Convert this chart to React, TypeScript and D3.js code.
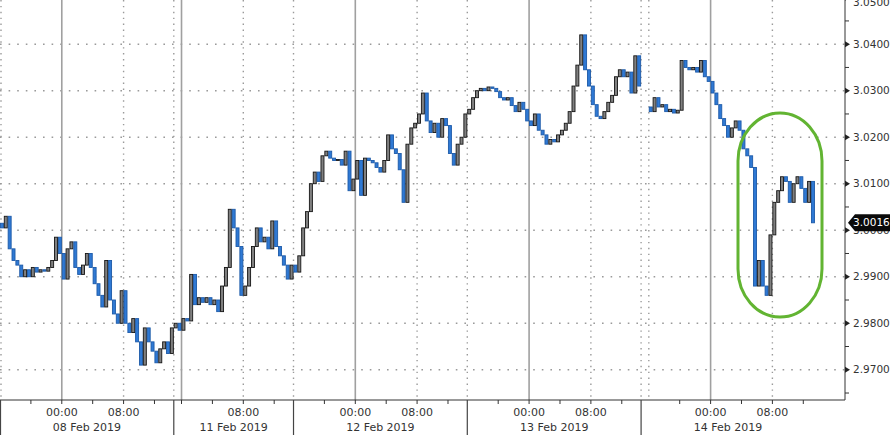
import React from "react";
import * as d3 from "d3";

// ---- data ----
const DAY_LABELS = ["08 Feb 2019", "11 Feb 2019", "12 Feb 2019", "13 Feb 2019", "14 Feb 2019"];
// trading-hour position where each session's bars begin, and the clock hour at that moment
const SESSION_START_H = [0, 22.5, 38, 60.5, 84];
const SESSION_START_CLOCK = [16, 23, 16, 16, 16];
// session boundaries (trading hours); the last one closes the final session
const BOUNDARY_H = [0, 22.5, 38, 60.5, 83, 105.5];
const SESSION_OPEN = [3.0015, 2.979, 2.9925, 3.025, 3.0265];

// 30-minute closes per session
const closes08 = [
  3.0005, 3.003, 2.996, 2.9935, 2.9925, 2.99, 2.9915, 2.99, 2.992, 2.991,
  2.9915, 2.9912, 2.992, 2.9935, 2.9985, 2.995, 2.9895, 2.996, 2.9975, 2.992,
  2.9905, 2.9925, 2.995, 2.992, 2.9885, 2.986, 2.9835, 2.9935, 2.985, 2.982,
  2.98, 2.987, 2.98, 2.978, 2.981, 2.976, 2.971, 2.979, 2.976, 2.974,
  2.9715, 2.9745, 2.976, 2.9735, 2.979,
];
const closes11 = [
  2.98, 2.9785, 2.981, 2.9805, 2.9905, 2.984, 2.9855, 2.9845, 2.9855, 2.984,
  2.985, 2.9825, 2.988, 2.992, 3.0045, 3.0005, 2.9965, 2.986, 2.988, 2.992,
  2.9965, 3.0005, 2.9975, 2.9985, 2.996, 3.002, 2.9965, 2.9945, 2.9925, 2.9895,
  2.9925,
];
const closes12 = [
  2.991, 2.9945, 3.0005, 3.004, 3.01, 3.0125, 3.0105, 3.016, 3.017, 3.0155,
  3.015, 3.0152, 3.014, 3.017, 3.0085, 3.011, 3.015, 3.0075, 3.0155, 3.015,
  3.0145, 3.0135, 3.0125, 3.015, 3.0205, 3.0175, 3.0165, 3.013, 3.006, 3.0185,
  3.022, 3.023, 3.025, 3.0295, 3.0235, 3.021, 3.023, 3.02, 3.024, 3.0225,
  3.0165, 3.014, 3.0185, 3.02, 3.025,
];
const closes13 = [
  3.026, 3.0285, 3.03, 3.0305, 3.03, 3.0308, 3.0305, 3.0298, 3.0285, 3.028,
  3.0285, 3.0268, 3.0255, 3.0275, 3.026, 3.0235, 3.0225, 3.025, 3.0215, 3.0205,
  3.0185, 3.0195, 3.019, 3.0205, 3.0215, 3.023, 3.0255, 3.031, 3.0355, 3.042,
  3.0345, 3.031, 3.027, 3.0245, 3.024, 3.0255, 3.0275, 3.029, 3.033, 3.0345,
  3.033, 3.034, 3.0295, 3.0375, 3.031,
];
const closes14 = [
  3.0255, 3.0285, 3.0265, 3.027, 3.0255, 3.026, 3.0252, 3.0258, 3.0365, 3.035,
  3.0345, 3.035, 3.034, 3.0365, 3.033, 3.032, 3.0295, 3.027, 3.024, 3.0225,
  3.02, 3.022, 3.0235, 3.0215, 3.0175, 3.016, 3.0135, 2.988, 2.9935, 2.988,
  2.986, 2.999, 3.006, 3.0085, 3.0115, 3.0105, 3.006, 3.01, 3.0115, 3.009,
  3.006, 3.0105, 3.0016,
];
const SESSION_CLOSES = [closes08, closes11, closes12, closes13, closes14];

const Y_TICKS = [2.97, 2.98, 2.99, 3.0, 3.01, 3.02, 3.03, 3.04, 3.05];
const LAST_PRICE = 3.0016;

// ---- layout ----
const W = 890;
const H = 439;
const PLOT_RIGHT = 845;
const PLOT_BOTTOM = 400;
const FONT = "'DejaVu Sans', Verdana, sans-serif";

export default function App() {
  const x = d3.scaleLinear().domain([0, 109.4]).range([0, PLOT_RIGHT]);
  const y = d3.scaleLinear().domain([2.9635, 3.0495]).range([PLOT_BOTTOM, 0]);

  const bars = SESSION_CLOSES.flatMap((arr, si) =>
    arr.map((c, i) => ({
      t: SESSION_START_H[si] + (i + 0.5) * 0.5,
      o: i === 0 ? SESSION_OPEN[si] : arr[i - 1],
      c,
    }))
  );

  // time ticks every 4 clock hours
  const timeTicks: { h: number; clock: number; off: number }[] = [];
  SESSION_START_H.forEach((s, si) => {
    const end = BOUNDARY_H[si + 1];
    const startClock = SESSION_START_CLOCK[si];
    let off = (4 - (startClock % 4)) % 4;
    if (off === 0) off = 4;
    for (; s + off < end; off += 4) {
      timeTicks.push({ h: s + off, clock: (startClock + off) % 24, off });
    }
  });

  const minorY = d3.range(2.965, 3.05, 0.01);
  const dottedV = Array.from(new Set([...BOUNDARY_H.slice(0, 5), ...SESSION_START_H]));

  const ly = y(LAST_PRICE);

  return (
    <svg
      width={W}
      height={H}
      style={{ position: "absolute", left: 0, top: 0, background: "#fff" }}
      fontFamily={FONT}
    >
      <rect x={0} y={0} width={W} height={H} fill="#fff" />
      {/* horizontal dotted grid */}
      {Y_TICKS.map((v) => (
        <line
          key={"hg" + v}
          x1={0}
          x2={PLOT_RIGHT}
          y1={y(v)}
          y2={y(v)}
          stroke="#9a9a9a"
          strokeWidth={1.6}
          strokeDasharray="1.6,7"
        />
      ))}
      {/* dotted vertical lines at session boundaries */}
      {dottedV.map((h) => (
        <line
          key={"dv" + h}
          x1={x(h) + (h === 0 ? 1 : 0)}
          x2={x(h) + (h === 0 ? 1 : 0)}
          y1={0}
          y2={PLOT_BOTTOM}
          stroke="#9a9a9a"
          strokeWidth={1.4}
          strokeDasharray="1.4,4.5"
        />
      ))}
      {/* vertical lines at 00:00 (solid) and 08:00 (dotted) */}
      {timeTicks
        .filter((t) => t.clock === 0 || t.clock === 8)
        .map((t) => (
          <line
            key={"vg" + t.h}
            x1={x(t.h)}
            x2={x(t.h)}
            y1={0}
            y2={PLOT_BOTTOM}
            stroke={t.clock === 0 ? "#a0a0a0" : "#9a9a9a"}
            strokeWidth={t.clock === 0 ? 1.6 : 1.4}
            strokeDasharray={t.clock === 0 ? undefined : "1.4,4.5"}
          />
        ))}

      {/* candles */}
      {bars.map((b, i) => {
        const up = b.c >= b.o;
        const top = y(Math.max(b.o, b.c));
        const h = Math.max(1, Math.abs(y(b.o) - y(b.c)));
        return (
          <rect
            key={"b" + i}
            x={x(b.t) - 1.5}
            y={top}
            width={3}
            height={h}
            fill={up ? "#808080" : "#2f79d4"}
            stroke={up ? "#151515" : "#1d5aa8"}
            strokeWidth={0.9}
          />
        );
      })}

      {/* highlight ellipse */}
      <rect
        x={738}
        y={113}
        width={84}
        height={204}
        rx={42}
        ry={48}
        fill="none"
        stroke="#62b432"
        strokeWidth={3}
      />

      {/* bottom axis */}
      <line x1={0} x2={PLOT_RIGHT} y1={PLOT_BOTTOM} y2={PLOT_BOTTOM} stroke="#333" strokeWidth={1} />
      {timeTicks.map((t) => (
        <line
          key={"tt" + t.h}
          x1={x(t.h)}
          x2={x(t.h)}
          y1={PLOT_BOTTOM}
          y2={PLOT_BOTTOM + 4}
          stroke="#333"
          strokeWidth={1}
        />
      ))}
      {BOUNDARY_H.slice(0, 5).map((h) => (
        <line
          key={"sep" + h}
          x1={x(h) + (h === 0 ? 0.5 : 0)}
          x2={x(h) + (h === 0 ? 0.5 : 0)}
          y1={PLOT_BOTTOM}
          y2={435}
          stroke="#444"
          strokeWidth={1.2}
        />
      ))}
      {timeTicks
        .filter((t) => (t.clock === 0 && t.off > 2) || t.clock === 8)
        .map((t) => (
          <text
            key={"tl" + t.h}
            x={x(t.h)}
            y={416}
            textAnchor="middle"
            fontSize={11}
            fill="#333"
          >
            {t.clock === 0 ? "00:00" : "08:00"}
          </text>
        ))}
      {DAY_LABELS.map((d, i) => (
        <text
          key={d}
          x={x((BOUNDARY_H[i] + BOUNDARY_H[i + 1]) / 2)}
          y={431}
          textAnchor="middle"
          fontSize={11}
          fill="#333"
        >
          {d}
        </text>
      ))}

      {/* right axis */}
      <line x1={PLOT_RIGHT} x2={PLOT_RIGHT} y1={0} y2={PLOT_BOTTOM} stroke="#333" strokeWidth={1} />
      {minorY.map((v) => (
        <line
          key={"mt" + v}
          x1={PLOT_RIGHT}
          x2={PLOT_RIGHT + 4}
          y1={y(v)}
          y2={y(v)}
          stroke="#333"
          strokeWidth={1}
        />
      ))}
      {Y_TICKS.map((v) => {
        const yy = y(v);
        return (
          <g key={"yt" + v}>
            <path
              d={`M${PLOT_RIGHT},${yy - 3}L${PLOT_RIGHT + 5},${yy}L${PLOT_RIGHT},${yy + 3}Z`}
              fill="#222"
            />
            <text
              x={853}
              y={Math.max(yy, 2)}
              dy="0.35em"
              fontSize={10.5}
              fill="#333"
            >
              {v.toFixed(4)}
            </text>
          </g>
        );
      })}

      {/* last price tag */}
      <path
        d={`M848,${ly}L855,${ly - 8.5}L890,${ly - 8.5}L890,${ly + 8.5}L855,${ly + 8.5}Z`}
        fill="#0a0a0a"
      />
      <text x={853} y={ly} dy="0.35em" fontSize={10.5} fill="#fff">
        {LAST_PRICE.toFixed(4)}
      </text>
    </svg>
  );
}
